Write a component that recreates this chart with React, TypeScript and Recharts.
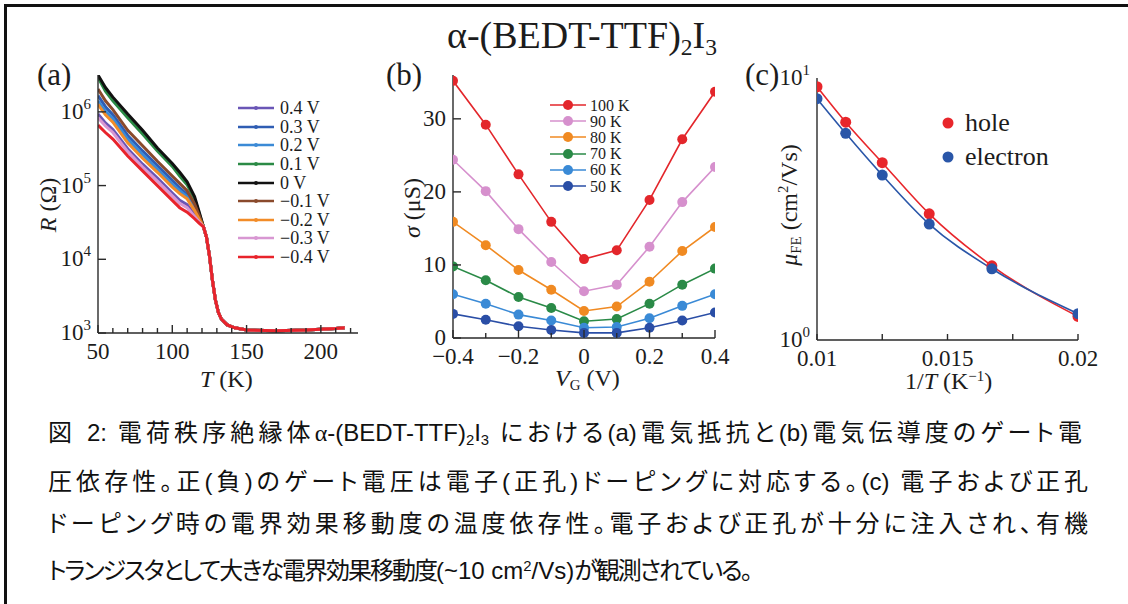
import React from 'react';
import { LineChart, Line, XAxis, YAxis, Legend } from 'recharts';

const SERIF = '"Liberation Serif", "Times New Roman", serif';
const SANS = '"Liberation Sans", Arial, "Noto Sans CJK JP", sans-serif';
const INK = '#1c1c1c';

// (a) R vs T, stored as log10(R / Ω)
const temps = [50, 55, 60, 70, 80, 90, 100, 105, 110, 115, 118, 121, 123, 125, 127, 129, 131, 133, 137, 142, 150, 170, 190, 210, 216];
const tailLogR = [4.44, 4.3, 4.05, 3.72, 3.45, 3.28, 3.19, 3.11, 3.07, 3.04, 3.03, 3.04, 3.06, 3.07];
const logR_p04 = [5.97, 5.85, 5.76, 5.5, 5.29, 5.1, 4.9, 4.8, 4.74, 4.61, 4.52, ...tailLogR];
const logR_p03 = [6.22, 6.07, 5.96, 5.68, 5.47, 5.27, 5.07, 4.97, 4.88, 4.7, 4.58, ...tailLogR];
const logR_p02 = [6.15, 6.01, 5.91, 5.63, 5.42, 5.22, 5.02, 4.93, 4.85, 4.68, 4.56, ...tailLogR];
const logR_p01 = [6.47, 6.28, 6.15, 5.92, 5.7, 5.47, 5.26, 5.13, 5.01, 4.82, 4.63, ...tailLogR];
const logR_0 = [6.5, 6.33, 6.2, 5.97, 5.75, 5.51, 5.3, 5.18, 5.05, 4.85, 4.65, ...tailLogR];
const logR_m01 = [6.31, 6.15, 6.03, 5.75, 5.54, 5.33, 5.13, 5.03, 4.93, 4.75, 4.6, ...tailLogR];
const logR_m02 = [6.1, 5.96, 5.86, 5.58, 5.37, 5.18, 4.98, 4.89, 4.82, 4.66, 4.55, ...tailLogR];
const logR_m03 = [5.92, 5.81, 5.72, 5.46, 5.25, 5.06, 4.86, 4.76, 4.7, 4.58, 4.51, ...tailLogR];
const logR_m04 = [5.82, 5.72, 5.63, 5.4, 5.2, 5.0, 4.8, 4.7, 4.64, 4.55, 4.49, ...tailLogR];
const tTicks = [50, 60, 70, 80, 90, 100, 110, 120, 130, 140, 150, 160, 170, 180, 190, 200, 210, 220];

// (b) conductance vs gate voltage
const vg = [-0.4, -0.3, -0.2, -0.1, 0, 0.1, 0.2, 0.3, 0.4];
const sigma100 = [35.2, 29.2, 22.4, 15.9, 10.8, 12.0, 18.9, 27.2, 33.7];
const sigma90 = [24.4, 20.1, 14.9, 10.4, 6.4, 7.3, 12.5, 18.6, 23.4];
const sigma80 = [15.9, 12.7, 9.3, 6.6, 3.7, 4.3, 7.7, 11.9, 15.2];
const sigma70 = [9.8, 7.9, 5.6, 4.1, 2.3, 2.6, 4.7, 7.3, 9.5];
const sigma60 = [6.0, 4.7, 3.2, 2.4, 1.4, 1.5, 2.7, 4.4, 6.0];
const sigma50 = [3.3, 2.5, 1.6, 1.1, 0.7, 0.7, 1.4, 2.4, 3.5];
const vgTicks = [-0.4, -0.3, -0.2, -0.1, 0, 0.1, 0.2, 0.3, 0.4];

// (c) mobility vs 1/T
const invT = [0.01, 0.0111, 0.0125, 0.0143, 0.0167, 0.02];
const muHole = [9.26, 6.78, 4.75, 3.03, 1.92, 1.23];
const muElectron = [8.34, 6.15, 4.26, 2.77, 1.87, 1.26];
const invTTicks = [0.01, 0.0125, 0.015, 0.0175, 0.02];
const muTicks = [1, 2, 3, 4, 5, 6, 7, 8, 9, 10];

const seriesA = [
  { key: 'p04', name: '0.4 V', color: '#6a56b6', values: logR_p04 },
  { key: 'p03', name: '0.3 V', color: '#2f5db3', values: logR_p03 },
  { key: 'p02', name: '0.2 V', color: '#3b8ad6', values: logR_p02 },
  { key: 'p01', name: '0.1 V', color: '#2b8a45', values: logR_p01 },
  { key: 'z0', name: '0 V', color: '#111111', values: logR_0 },
  { key: 'm01', name: '\u22120.1 V', color: '#8a4a2c', values: logR_m01 },
  { key: 'm02', name: '\u22120.2 V', color: '#f28c28', values: logR_m02 },
  { key: 'm03', name: '\u22120.3 V', color: '#d897d2', values: logR_m03 },
  { key: 'm04', name: '\u22120.4 V', color: '#e8232b', values: logR_m04 },
];
const rowsA = temps.map((T, i) => {
  const r: Record<string, number> = { T };
  seriesA.forEach((s) => (r[s.key] = s.values[i]));
  return r;
});

const seriesB = [
  { key: 's100', name: '100 K', color: '#e3262b', values: sigma100 },
  { key: 's90', name: '90 K', color: '#d690cd', values: sigma90 },
  { key: 's80', name: '80 K', color: '#f08a22', values: sigma80 },
  { key: 's70', name: '70 K', color: '#2a8a47', values: sigma70 },
  { key: 's60', name: '60 K', color: '#3a8ad6', values: sigma60 },
  { key: 's50', name: '50 K', color: '#2a4ea6', values: sigma50 },
];
const rowsB = vg.map((v, i) => {
  const r: Record<string, number> = { v };
  seriesB.forEach((s) => (r[s.key] = s.values[i]));
  return r;
});

const seriesC = [
  { key: 'hole', name: 'hole', color: '#e8262b' },
  { key: 'electron', name: 'electron', color: '#2a56a8' },
];
const rowsC = invT.map((x, i) => ({ x, hole: muHole[i], electron: muElectron[i] }));

type Side = 'bottom' | 'top' | 'left' | 'right';
type TickOpts = {
  side: Side;
  major: number[];
  label?: (v: number) => React.ReactNode;
  len?: number;
  minorLen?: number;
  fontSize?: number;
};

const same = (a: number, b: number) => Math.abs(a - b) < 1e-9;

// ticks point into the frame, labels sit outside
function tickR(o: TickOpts) {
  return (p: any) => {
    const { x, y } = p;
    const v = p.payload.value as number;
    const isMajor = o.major.some((m) => same(m, v));
    const L = isMajor ? o.len ?? 8 : o.minorLen ?? 5;
    let ln: [number, number, number, number];
    if (o.side === 'bottom') ln = [x, y, x, y - L];
    else if (o.side === 'top') ln = [x, y, x, y + L];
    else if (o.side === 'left') ln = [x, y, x + L, y];
    else ln = [x, y, x - L, y];
    const fs = o.fontSize ?? 23;
    return (
      <g>
        {L > 0 && <line x1={ln[0]} y1={ln[1]} x2={ln[2]} y2={ln[3]} stroke="#2a2a2a" strokeWidth={1.4} />}
        {isMajor && o.label && o.side === 'bottom' && (
          <text x={x} y={y + 26} textAnchor="middle" fontFamily={SERIF} fontSize={fs} fill={INK}>
            {o.label(v)}
          </text>
        )}
        {isMajor && o.label && o.side === 'left' && (
          <text x={x - 7} y={y + 7} textAnchor="end" fontFamily={SERIF} fontSize={fs} fill={INK}>
            {o.label(v)}
          </text>
        )}
      </g>
    );
  };
}

const pow10 = (e: number) => (
  <>
    <tspan>10</tspan>
    <tspan dy={-10} fontSize={15}>
      {e}
    </tspan>
  </>
);

const frame = { stroke: '#2a2a2a', strokeWidth: 1.4 };
const axisCommon = { tickLine: false, tickSize: 0, tickMargin: 0, interval: 0 as const, allowDataOverflow: true, axisLine: frame };

const A = { left: 98, top: 75, w: 260, h: 258 };
const B = { left: 453, top: 75, w: 262, h: 263 };
const C = { left: 817, top: 78, w: 261, h: 262 };
const M = { top: 20, right: 30, left: 70, bottom: 40 };

const legendA = () => (
  <div style={{ fontFamily: SERIF, fontSize: 18, color: INK }}>
    {seriesA.map((s) => (
      <div key={s.key} style={{ display: 'flex', alignItems: 'center', height: 18.6 }}>
        <svg width={36} height={10}>
          <line x1={0} x2={36} y1={5} y2={5} stroke={s.color} strokeWidth={2.4} />
          <circle cx={18} cy={5} r={2} fill={s.color} />
        </svg>
        <span style={{ marginLeft: 6, lineHeight: '16px' }}>{s.name}</span>
      </div>
    ))}
  </div>
);

const legendB = () => (
  <div style={{ fontFamily: SERIF, fontSize: 16, color: INK }}>
    {seriesB.map((s) => (
      <div key={s.key} style={{ display: 'flex', alignItems: 'center', height: 16.2 }}>
        <svg width={36} height={12}>
          <line x1={0} x2={36} y1={6} y2={6} stroke={s.color} strokeWidth={1.6} />
          <circle cx={18} cy={6} r={5} fill={s.color} />
        </svg>
        <span style={{ marginLeft: 4, lineHeight: '15px' }}>{s.name}</span>
      </div>
    ))}
  </div>
);

const legendC = () => (
  <div style={{ fontFamily: SERIF, fontSize: 26, color: INK }}>
    {seriesC.map((s) => (
      <div key={s.key} style={{ display: 'flex', alignItems: 'center', height: 34 }}>
        <svg width={12} height={12}>
          <circle cx={6} cy={6} r={5.5} fill={s.color} />
        </svg>
        <span style={{ marginLeft: 11, lineHeight: 1 }}>{s.name}</span>
      </div>
    ))}
  </div>
);

const abs = (left: number, top: number, extra: React.CSSProperties = {}): React.CSSProperties => ({
  position: 'absolute',
  left,
  top,
  fontFamily: SERIF,
  color: INK,
  whiteSpace: 'nowrap',
  lineHeight: 1,
  ...extra,
});

const sub: React.CSSProperties = { fontSize: '0.62em', verticalAlign: '-0.28em' };
const sup: React.CSSProperties = { fontSize: '0.62em', verticalAlign: '0.55em' };

const chartBox = (P: { left: number; top: number }): React.CSSProperties => ({
  position: 'absolute',
  left: P.left - M.left,
  top: P.top - M.top,
});

export default function App() {
  return (
    <div style={{ position: 'absolute', left: 0, top: 0, width: 1128, height: 604, background: '#fff', overflow: 'hidden' }}>
      <div style={{ position: 'absolute', left: 4, top: 4, width: 1124, height: 600, borderTop: '3px solid #111', borderLeft: '3px solid #111' }} />

      <div style={abs(447, 16, { fontSize: 38 })}>
        α-(BEDT-TTF)<span style={sub}>2</span>I<span style={sub}>3</span>
      </div>

      <div style={abs(37, 59, { fontSize: 31 })}>(a)</div>
      <div style={abs(386, 59, { fontSize: 31 })}>(b)</div>
      <div style={abs(745, 59, { fontSize: 31 })}>(c)</div>

      {/* panel (a) */}
      <div style={chartBox(A)}>
        <LineChart width={A.w + M.left + M.right} height={A.h + M.top + M.bottom} data={rowsA}
          margin={{ top: M.top, right: M.right, bottom: 0, left: 0 }}>
          <XAxis xAxisId="b" dataKey="T" type="number" domain={[50, 225]} ticks={tTicks} height={M.bottom} {...axisCommon}
            tick={tickR({ side: 'bottom', major: [50, 100, 150, 200], label: (v) => String(v) })} />
          <XAxis xAxisId="t" orientation="top" dataKey="T" type="number" domain={[50, 225]} ticks={tTicks} height={0} {...axisCommon}
            tick={tickR({ side: 'top', major: [50, 100, 150, 200] })} />
          <YAxis yAxisId="l" type="number" domain={[3, 6.5]} ticks={[3, 4, 5, 6]} width={M.left} {...axisCommon}
            tick={tickR({ side: 'left', major: [3, 4, 5, 6], label: pow10 })} />
          <YAxis yAxisId="r" orientation="right" type="number" domain={[3, 6.5]} ticks={[3, 4, 5, 6]} width={0} {...axisCommon}
            tick={tickR({ side: 'right', major: [3, 4, 5, 6] })} />
          {seriesA.map((s) => (
            <Line key={s.key} xAxisId="b" yAxisId="l" type="linear" dataKey={s.key} name={s.name} stroke={s.color}
              strokeWidth={3} dot={false} isAnimationActive={false} />
          ))}
          <Legend layout="vertical" align="center" verticalAlign="middle" content={legendA}
            wrapperStyle={{ left: 210, top: 44, width: 'auto' }} />
        </LineChart>
      </div>

      {/* panel (b) */}
      <div style={chartBox(B)}>
        <LineChart width={B.w + M.left + M.right} height={B.h + M.top + M.bottom} data={rowsB}
          margin={{ top: M.top, right: M.right, bottom: 0, left: 0 }}>
          <XAxis xAxisId="b" dataKey="v" type="number" domain={[-0.4, 0.4]} ticks={vgTicks} height={M.bottom} {...axisCommon}
            tick={tickR({ side: 'bottom', major: [-0.4, -0.2, 0, 0.2, 0.4], label: (v) => (v < 0 ? '\u2212' + Math.abs(v) : String(v)) })} />
          <XAxis xAxisId="t" orientation="top" dataKey="v" type="number" domain={[-0.4, 0.4]} ticks={vgTicks} height={0} {...axisCommon}
            tick={tickR({ side: 'top', major: [-0.4, -0.2, 0, 0.2, 0.4] })} />
          <YAxis yAxisId="l" type="number" domain={[0, 36]} ticks={[0, 10, 20, 30]} width={M.left} {...axisCommon}
            tick={tickR({ side: 'left', major: [0, 10, 20, 30], label: (v) => String(v) })} />
          <YAxis yAxisId="r" orientation="right" type="number" domain={[0, 36]} ticks={[0, 10, 20, 30]} width={0} {...axisCommon}
            tick={tickR({ side: 'right', major: [0, 10, 20, 30] })} />
          {seriesB.map((s) => (
            <Line key={s.key} xAxisId="b" yAxisId="l" type="linear" dataKey={s.key} name={s.name} stroke={s.color}
              strokeWidth={1.6} dot={{ r: 5, fill: s.color, stroke: 'none' }} isAnimationActive={false} />
          ))}
          <Legend layout="vertical" align="center" verticalAlign="middle" content={legendB}
            wrapperStyle={{ left: 167, top: 42, width: 'auto' }} />
        </LineChart>
      </div>

      {/* panel (c) */}
      <div style={chartBox(C)}>
        <LineChart width={C.w + M.left + M.right} height={C.h + M.top + M.bottom} data={rowsC}
          margin={{ top: M.top, right: M.right, bottom: 0, left: 0 }}>
          <XAxis xAxisId="b" dataKey="x" type="number" domain={[0.01, 0.02]} ticks={invTTicks} height={M.bottom} {...axisCommon}
            tick={tickR({ side: 'bottom', major: [0.01, 0.015, 0.02], label: (v) => String(v), len: 6, minorLen: 6 })} />
          <XAxis xAxisId="t" orientation="top" dataKey="x" type="number" domain={[0.01, 0.02]} ticks={invTTicks} height={0} {...axisCommon}
            tick={tickR({ side: 'top', major: [0.01, 0.015, 0.02], len: 6, minorLen: 6 })} />
          <YAxis yAxisId="l" type="number" scale="log" domain={[1, 10]} ticks={muTicks} width={M.left} {...axisCommon}
            tick={tickR({ side: 'left', major: [1, 10], label: (v) => pow10(v === 10 ? 1 : 0), len: 0, minorLen: 0 })} />
          <YAxis yAxisId="r" orientation="right" type="number" scale="log" domain={[1, 10]} ticks={muTicks} width={0} {...axisCommon}
            tick={tickR({ side: 'right', major: [1, 10], len: 6, minorLen: 6 })} />
          {seriesC.map((s) => (
            <Line key={s.key} xAxisId="b" yAxisId="l" type="monotone" dataKey={s.key} name={s.name} stroke={s.color}
              strokeWidth={1.6} dot={{ r: 5.5, fill: s.color, stroke: 'none' }} isAnimationActive={false} />
          ))}
          <Legend layout="vertical" align="center" verticalAlign="middle" content={legendC}
            wrapperStyle={{ left: 195, top: 48, width: 'auto' }} />
        </LineChart>
      </div>

      {/* axis titles */}
      <div style={abs(200, 367, { fontSize: 24 })}>
        <i>T</i> (K)
      </div>
      <div style={abs(48, 205, { fontSize: 24, transform: 'translate(-50%, -50%) rotate(-90deg)' })}>
        <i>R</i> (Ω)
      </div>
      <div style={abs(412, 208, { fontSize: 24, transform: 'translate(-50%, -50%) rotate(-90deg)' })}>
        <i>σ</i> (μS)
      </div>
      <div style={abs(555, 366, { fontSize: 24 })}>
        <i>V</i>
        <span style={sub}>G</span> (V)
      </div>
      <div style={abs(790, 205, { fontSize: 24, transform: 'translate(-50%, -50%) rotate(-90deg)' })}>
        <i>μ</i>
        <span style={sub}>FE</span> (cm<span style={sup}>2</span>/Vs)
      </div>
      <div style={abs(905, 369, { fontSize: 24 })}>
        1/<i>T</i> (K<span style={sup}>−1</span>)
      </div>

      {/* caption */}
      <div style={{ position: 'absolute', left: 48, top: 412, width: 1040, fontFamily: SANS, fontSize: 24, lineHeight: '42px',
        color: '#111', fontFeatureSettings: '"palt"' }}>
        <div style={{ textAlignLast: 'justify', width: 1034 }}>
          図 2: 電荷秩序絶縁体<span style={{ fontFamily: SERIF }}>α</span>-(BEDT-TTF)<span style={sub}>2</span>I<span style={sub}>3</span> における(a)電気抵抗と(b)電気伝導度のゲート電
        </div>
        <div style={{ textAlignLast: 'justify' }}>圧依存性。正(負)のゲート電圧は電子(正孔)ドーピングに対応する。(c) 電子および正孔</div>
        <div style={{ textAlignLast: 'justify' }}>ドーピング時の電界効果移動度の温度依存性。電子および正孔が十分に注入され、有機</div>
        <div style={{ letterSpacing: '-2px' }}>
          トランジスタとして大きな電界効果移動度
          <span style={{ letterSpacing: 0 }}>
            (~10 cm<span style={sup}>2</span>/Vs)
          </span>
          が観測されている。
        </div>
      </div>
    </div>
  );
}
